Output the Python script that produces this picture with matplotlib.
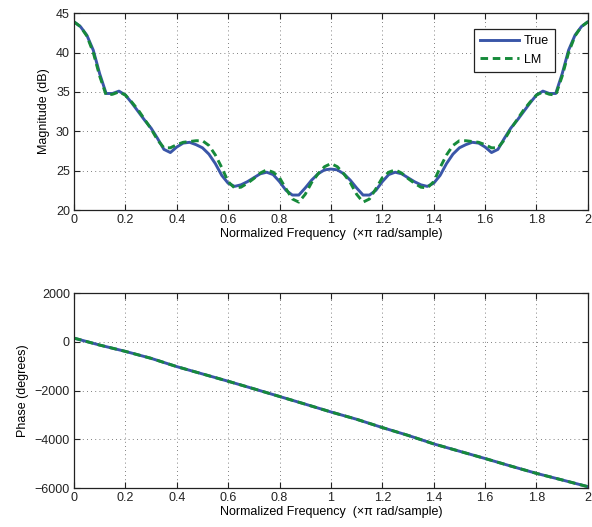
import matplotlib
matplotlib.use("Agg")
import matplotlib.pyplot as plt

plt.rcParams['font.family'] = ['Liberation Sans', 'DejaVu Sans']
plt.rcParams['font.size'] = 9

freq = [0.000, 0.025, 0.050, 0.075, 0.100, 0.125, 0.150, 0.175, 0.200, 0.225,
        0.250, 0.275, 0.300, 0.325, 0.350, 0.375, 0.400, 0.425, 0.450, 0.475,
        0.500, 0.525, 0.550, 0.575, 0.600, 0.625, 0.650, 0.675, 0.700, 0.725,
        0.750, 0.775, 0.800, 0.825, 0.850, 0.875, 0.900, 0.925, 0.950, 0.975,
        1.000, 1.025, 1.050, 1.075, 1.100, 1.125, 1.150, 1.175, 1.200, 1.225,
        1.250, 1.275, 1.300, 1.325, 1.350, 1.375, 1.400, 1.425, 1.450, 1.475,
        1.500, 1.525, 1.550, 1.575, 1.600, 1.625, 1.650, 1.675, 1.700, 1.725,
        1.750, 1.775, 1.800, 1.825, 1.850, 1.875, 1.900, 1.925, 1.950, 1.975,
        2.000]

mag_true = [43.9, 43.3, 42.2, 40.3, 37.3, 34.8, 34.8, 35.1, 34.6, 33.6,
            32.5, 31.4, 30.4, 29.1, 27.7, 27.3, 28.0, 28.5, 28.6, 28.3,
            27.9, 27.1, 25.9, 24.4, 23.4, 23.0, 23.2, 23.6, 24.1, 24.6,
            24.8, 24.5, 23.6, 22.5, 21.9, 21.9, 22.8, 23.8, 24.6, 25.1,
            25.2, 25.1, 24.6, 23.8, 22.8, 21.9, 21.9, 22.5, 23.6, 24.5,
            24.8, 24.6, 24.1, 23.6, 23.2, 23.0, 23.4, 24.4, 25.9, 27.1,
            27.9, 28.3, 28.6, 28.5, 28.0, 27.3, 27.7, 29.1, 30.4, 31.4,
            32.5, 33.6, 34.6, 35.1, 34.8, 34.8, 37.3, 40.3, 42.2, 43.3,
            43.9]

mag_lm = [43.9, 43.3, 42.1, 40.0, 37.0, 34.6, 34.7, 35.0, 34.6, 33.7,
          32.7, 31.5, 30.3, 28.9, 27.9, 27.9, 28.3, 28.6, 28.7, 28.8,
          28.8, 28.2, 27.0, 25.4, 23.6, 22.8, 22.9, 23.4, 24.0, 24.7,
          25.1, 24.8, 24.1, 22.7, 21.4, 21.0, 22.0, 23.5, 24.6, 25.5,
          25.9, 25.5, 24.6, 23.5, 22.0, 21.0, 21.4, 22.7, 24.1, 24.8,
          25.1, 24.7, 24.0, 23.4, 22.9, 22.8, 23.6, 25.4, 27.0, 28.2,
          28.8, 28.8, 28.7, 28.6, 28.3, 27.9, 27.9, 28.9, 30.3, 31.5,
          32.7, 33.7, 34.6, 35.0, 34.7, 34.6, 37.0, 40.0, 42.1, 43.3,
          43.9]

phase_freq = [0.0, 0.1, 0.2, 0.3, 0.4, 0.5, 0.6, 0.7, 0.8, 0.9, 1.0,
              1.1, 1.2, 1.3, 1.4, 1.5, 1.6, 1.7, 1.8, 1.9, 2.0]
phase_true = [150, -136, -395, -680, -1020, -1320, -1620, -1930, -2245, -2560, -2880,
              -3180, -3520, -3840, -4190, -4490, -4790, -5100, -5400, -5670, -5945]
phase_lm = [150, -136, -395, -680, -1020, -1320, -1620, -1930, -2245, -2560, -2880,
            -3180, -3520, -3840, -4190, -4490, -4790, -5100, -5400, -5670, -5945]

xticks = [0, 0.2, 0.4, 0.6, 0.8, 1, 1.2, 1.4, 1.6, 1.8, 2]
xticklabels = ['0', '0.2', '0.4', '0.6', '0.8', '1', '1.2', '1.4', '1.6', '1.8', '2']
mag_ticks = [20, 25, 30, 35, 40, 45]
phase_ticks = [-6000, -4000, -2000, 0, 2000]
xlabel = 'Normalized Frequency  (\u00d7\u03c0 rad/sample)'

blue = '#3a56a8'
green = '#168a3a'
dash = (0, (2.6, 1.6))

fig = plt.figure(figsize=(5.92, 5.27), dpi=100)
ax1 = fig.add_axes([0.125, 0.6015, 0.868, 0.3735])
ax2 = fig.add_axes([0.125, 0.074, 0.868, 0.370])

def style(ax):
    ax.grid(True, linestyle=(0, (1, 4)), color='#555555', linewidth=0.6)
    ax.tick_params(direction='in', top=True, right=True, length=4, width=0.8,
                   labelsize=9, pad=3, colors='#222222')
    for s in ax.spines.values():
        s.set_linewidth(0.9)
        s.set_color('#222222')
    ax.set_xlim(0, 2)
    ax.set_xticks(xticks)
    ax.set_xticklabels(xticklabels)

ax1.plot(freq, mag_true, color=blue, linewidth=2.1, label='True')
ax1.plot(freq, mag_lm, color=green, linewidth=2.1, linestyle=dash, label='LM')
style(ax1)
ax1.set_ylim(20, 45)
ax1.set_yticks(mag_ticks)
ax1.set_ylabel('Magnitude (dB)', labelpad=4)
ax1.set_xlabel(xlabel, labelpad=1)
leg = ax1.legend(loc='upper right', bbox_to_anchor=(0.936, 0.921), borderaxespad=0,
                 fancybox=False, edgecolor='#222222', framealpha=1, handlelength=3.1,
                 borderpad=0.5, labelspacing=0.55, handletextpad=0.4, fontsize=9)
leg.get_frame().set_linewidth(0.9)

ax2.plot(phase_freq, phase_true, color=blue, linewidth=2.1)
ax2.plot(phase_freq, phase_lm, color=green, linewidth=2.1, linestyle=dash)
style(ax2)
ax2.set_ylim(-6000, 2000)
ax2.set_yticks(phase_ticks)
ax2.set_ylabel('Phase (degrees)', labelpad=4)
ax2.set_xlabel(xlabel, labelpad=1)

fig.savefig('out.png', dpi=100)
